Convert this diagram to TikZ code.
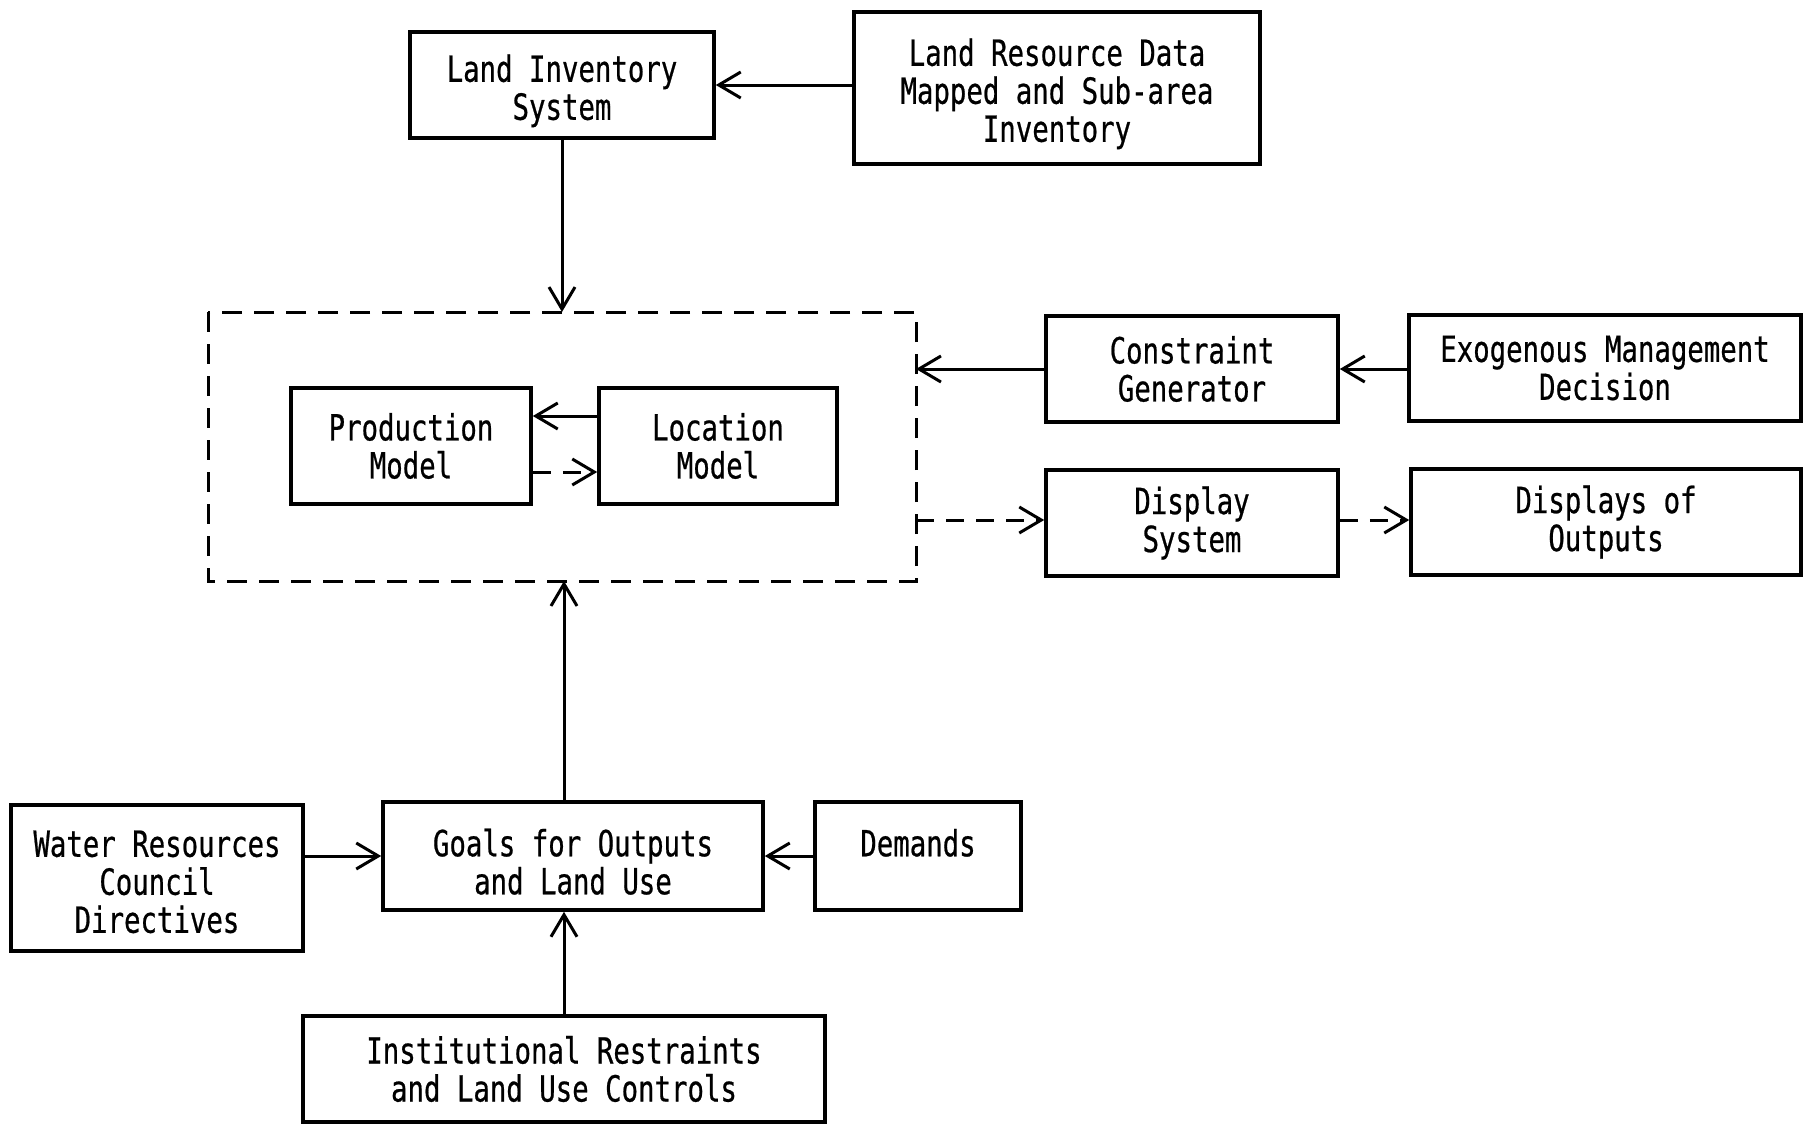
\documentclass[tikz,border=0pt]{standalone}
\usepackage{fontspec}
\usetikzlibrary{arrows.meta}
\newfontfamily\boxfont[FakeStretch=0.76,FakeBold=0.6]{DejaVu Sans Mono}
\newcommand\dropline[1]{\rule{0pt}{#1}}
\tikzset{
  block/.style={draw, line width=1.8pt, align=center, inner sep=2pt,
    font=\boxfont\fontsize{18}{19}\selectfont},
  arr/.style={line width=1.5pt, -{Straight Barb[length=11pt,width=13pt]}},
  darr/.style={arr, dash pattern=on 9pt off 6pt},
}
\begin{document}
\begin{tikzpicture}[x=0.5pt,y=-0.5pt]
          \useasboundingbox (0,0) rectangle (1804,1124);

          \node[block, minimum width=152pt, minimum height=53pt] (inv) at (562,85) {\dropline{19.5pt}Land Inventory\\System};
          \node[block, minimum width=203pt, minimum height=76pt] (res) at (1057,88) {\dropline{19.5pt}Land Resource Data\\Mapped and Sub-area\\Inventory};

          \draw[line width=1.5pt, dash pattern=on 10pt off 6pt] (208,312) rectangle (916,581);
          \coordinate (dtop) at (562,312);
          \coordinate (dbot) at (564,581);
          \coordinate (dcon) at (916,369);
          \coordinate (ddis) at (916,520);

          \node[block, minimum width=120pt, minimum height=58pt] (prod) at (411,446) {Production\\Model};
          \node[block, minimum width=119pt, minimum height=58pt] (loc) at (718,446) {Location\\Model};

          \node[block, minimum width=146pt, minimum height=53pt] (con) at (1192,369) {Constraint\\Generator};
          \node[block, minimum width=196pt, minimum height=53pt] (exo) at (1605,368) {Exogenous Management\\Decision};
          \node[block, minimum width=146pt, minimum height=53pt] (dis) at (1192,523) {Display\\System};
          \node[block, minimum width=195pt, minimum height=53pt] (out) at (1606,522) {Displays of\\Outputs};

          \node[block, minimum width=146pt, minimum height=73pt] (wrc) at (157,878) {\dropline{17pt}Water Resources\\Council\\Directives};
          \node[block, minimum width=190pt, minimum height=54pt] (goal) at (573,856) {\dropline{19.5pt}Goals for Outputs\\and Land Use};
          \node[block, minimum width=102pt, minimum height=54pt] (dem) at (918,856) {\dropline{19.5pt}Demands\\\phantom{and Land Use}};
          \node[block, minimum width=261pt, minimum height=53pt] (inst) at (564,1069) {Institutional Restraints\\and Land Use Controls};

          \draw[arr] (res.west |- inv) -- (inv.east);
          \draw[arr] (inv.south) -- (dtop);
          \draw[arr] (con.west) -- (dcon);
          \draw[arr] (exo.west |- con) -- (con.east);
          \draw[darr] (ddis) -- (dis.west |- ddis);
          \draw[darr] (dis.east |- ddis) -- (out.west |- ddis);
          \draw[arr] ([yshift=15pt]loc.west) -- ([yshift=15pt]prod.east);
          \draw[darr] ([yshift=-13pt]prod.east) -- ([yshift=-13pt]loc.west);
          \draw[arr] (goal.north -| dbot) -- (dbot);
          \draw[arr] (wrc.east |- goal) -- (goal.west);
          \draw[arr] (dem.west) -- (goal.east);
          \draw[arr] (inst.north) -- (goal.south -| inst);

          \end{tikzpicture}
\end{document}
